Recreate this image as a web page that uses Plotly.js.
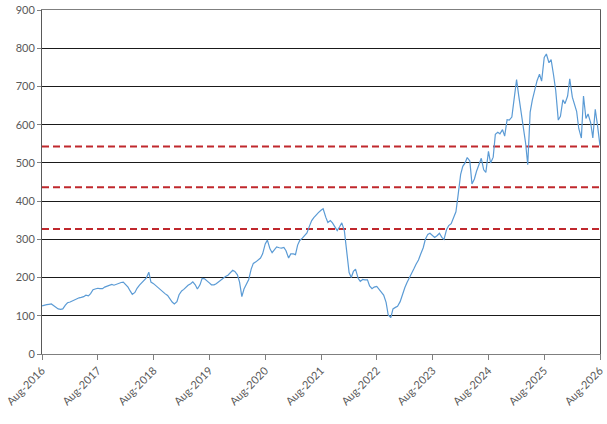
<!DOCTYPE html>
<html>
<head>
<meta charset="utf-8">
<script src="https://cdn.plot.ly/plotly-3.0.1.min.js"></script>
<style>
  html, body { margin: 0; padding: 0; background: #fff; }
  #chart { width: 607px; height: 424px; }
</style>
</head>
<body>
<div id="chart"></div>
<script>
var dates = [
  '2016-08-01','2016-08-15','2016-09-01','2016-09-15','2016-10-01','2016-10-15','2016-11-01','2016-11-15','2016-12-01','2016-12-15',
  '2017-01-01','2017-01-15','2017-02-01','2017-02-15','2017-03-01','2017-03-15','2017-04-01','2017-04-15','2017-05-01','2017-05-15','2017-06-01','2017-06-15',
  '2017-07-01','2017-07-15','2017-08-01','2017-08-15','2017-09-01','2017-09-15','2017-10-01','2017-10-15','2017-11-01','2017-11-15','2017-12-01','2017-12-15',
  '2018-01-01','2018-01-15','2018-02-01','2018-02-15','2018-03-01','2018-03-15','2018-04-01','2018-04-15','2018-05-01','2018-05-15','2018-06-01','2018-06-15',
  '2018-07-01','2018-07-15','2018-08-01','2018-08-15','2018-09-01','2018-09-15','2018-10-01','2018-10-15','2018-11-01','2018-11-15','2018-12-01','2018-12-15',
  '2019-01-01','2019-01-15','2019-02-01','2019-02-15','2019-03-01','2019-03-15','2019-04-01','2019-04-15','2019-05-01','2019-05-15','2019-06-01','2019-06-15',
  '2019-07-01','2019-07-15','2019-08-01','2019-08-15','2019-09-01','2019-09-15','2019-10-01','2019-10-15','2019-11-01','2019-11-15','2019-12-01','2019-12-15',
  '2020-01-01','2020-01-15','2020-02-01','2020-02-15','2020-03-01','2020-03-15','2020-04-01','2020-04-15','2020-05-01','2020-05-15','2020-06-01','2020-06-15',
  '2020-07-01','2020-07-15','2020-08-01','2020-08-15','2020-09-01','2020-09-15','2020-10-01','2020-10-15','2020-11-01','2020-11-15','2020-12-01','2020-12-15',
  '2021-01-01','2021-01-15','2021-02-01','2021-02-15','2021-03-01','2021-03-15','2021-04-01','2021-04-15','2021-05-01','2021-05-15','2021-06-01','2021-06-15',
  '2021-07-01','2021-07-15','2021-08-01','2021-08-15','2021-09-01','2021-09-15','2021-10-01','2021-10-15','2021-11-01','2021-11-15','2021-12-01','2021-12-15',
  '2022-01-01','2022-01-15','2022-02-01','2022-02-15','2022-03-01','2022-03-15','2022-04-01','2022-04-15','2022-05-01','2022-05-15','2022-06-01','2022-06-15',
  '2022-07-01','2022-07-15','2022-08-01','2022-08-15','2022-09-01','2022-09-15','2022-10-01','2022-10-15','2022-11-01','2022-11-15','2022-12-01','2022-12-15',
  '2023-01-01','2023-01-15','2023-02-01','2023-02-15','2023-03-01','2023-03-15','2023-04-01','2023-04-15','2023-05-01','2023-05-15','2023-06-01','2023-06-15',
  '2023-07-01','2023-07-15','2023-08-01','2023-08-15','2023-09-01','2023-09-15','2023-10-01','2023-10-15','2023-11-01','2023-11-15','2023-12-01','2023-12-15',
  '2024-01-01','2024-01-15','2024-02-01','2024-02-15','2024-03-01','2024-03-15','2024-04-01','2024-04-15','2024-05-01','2024-05-15','2024-06-01','2024-06-15',
  '2024-07-01','2024-07-15','2024-08-01','2024-08-15','2024-09-01','2024-09-15','2024-10-01','2024-10-15','2024-11-01','2024-11-15','2024-12-01','2024-12-15',
  '2025-01-01','2025-01-15','2025-02-01','2025-02-15','2025-03-01','2025-03-15','2025-04-01','2025-04-15','2025-05-01','2025-05-15','2025-06-01','2025-06-15',
  '2025-07-01','2025-07-15','2025-08-01','2025-08-15','2025-09-01','2025-09-15','2025-10-01','2025-10-15','2025-11-01','2025-11-15','2025-12-01','2025-12-15',
  '2026-01-01','2026-01-15','2026-02-01','2026-02-15','2026-03-01','2026-03-15','2026-04-01','2026-04-15','2026-05-01','2026-05-15','2026-06-01','2026-06-15',
  '2026-07-01','2026-07-15','2026-08-01'
];
var prices = [
  126,128,129,130,131,127,121,118,117,118,
  128,134,136,139,141,144,147,148,150,154,152,158,
  168,170,172,171,171,175,177,180,182,180,183,185,
  187,188,181,175,165,156,161,172,180,186,193,199,
  214,188,184,179,174,167,163,158,153,144,136,131,
  137,155,165,169,175,180,184,189,181,170,181,198,
  197,191,186,181,181,184,189,194,200,203,206,211,
  219,216,207,188,150,170,183,195,222,237,241,245,
  251,262,288,298,275,265,272,280,278,277,279,270,
  251,262,262,260,285,297,303,311,317,332,349,357,
  365,370,376,380,358,344,349,343,332,323,333,343,
  322,265,213,200,216,222,198,190,195,194,194,178,
  171,175,177,170,160,154,135,102,95,118,122,125,
  137,155,174,187,197,208,223,235,246,261,278,300,
  313,316,310,305,310,316,305,300,326,336,341,354,
  372,415,470,491,500,514,505,445,458,478,498,512,
  482,475,530,500,515,575,580,576,587,570,613,612,
  620,672,718,676,637,600,552,495,633,664,692,715,
  732,714,776,785,762,770,730,690,612,622,665,655,
  675,720,672,651,635,590,565,675,616,628,605,565,
  640,600,545
];
// dashed reference levels
var levels = [543, 436, 327];

var data = [];
for (let i in levels) {
    data.push({
        x: [dates[0], dates[dates.length - 1]],
        y: [levels[i], levels[i]],
        type: 'scatter',
        mode: 'lines',
        line: {color: '#c0282d', width: 2, dash: '7px,4px'},
        hoverinfo: 'skip'
    });
}
data.push({
    x: dates,
    y: prices,
    type: 'scatter',
    mode: 'lines',
    line: {color: '#5b9bd5', width: 1.2}
});

var tickFont = {family: 'Lato, "Open Sans", sans-serif', size: 11, color: '#595959'};

var layout = {
    width: 607,
    height: 424,
    margin: {l: 42, r: 7, t: 10, b: 70},
    paper_bgcolor: '#ffffff',
    plot_bgcolor: '#ffffff',
    showlegend: false,
    xaxis: {
        type: 'date',
        range: ['2016-08-01', '2026-08-01'],
        tick0: '2016-08-01',
        dtick: 'M12',
        tickformat: '%b-%Y',
        tickangle: -45,
        ticks: 'outside',
        ticklen: 5,
        tickcolor: '#7f7f7f',
        showgrid: false,
        showline: true,
        linecolor: '#7f7f7f',
        linewidth: 1,
        mirror: true,
        zeroline: false,
        tickfont: tickFont
    },
    yaxis: {
        range: [0, 900],
        dtick: 100,
        ticks: 'outside',
        ticklen: 4,
        tickcolor: '#7f7f7f',
        showgrid: true,
        gridcolor: '#1a1a1a',
        gridwidth: 1,
        showline: true,
        linecolor: '#595959',
        linewidth: 1,
        mirror: true,
        zeroline: false,
        tickfont: tickFont
    }
};
var config = {responsive: false, displayModeBar: false, staticPlot: true};
Plotly.newPlot('chart', data, layout, config);
</script>
</body>
</html>
